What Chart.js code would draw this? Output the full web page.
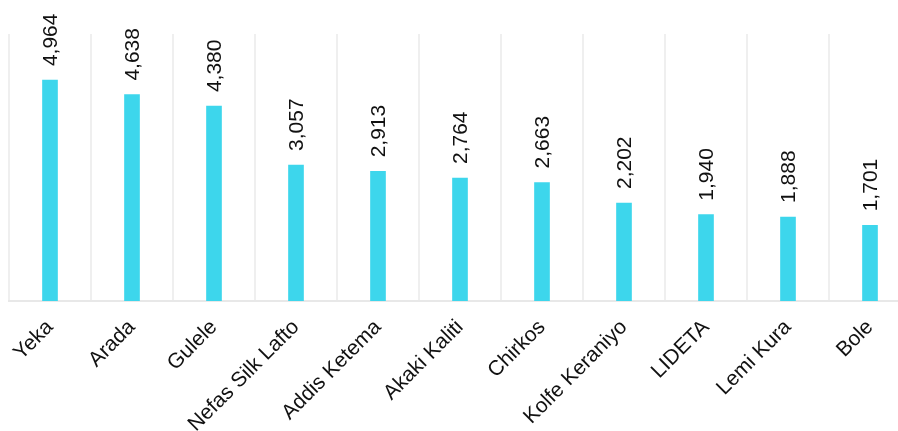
<!DOCTYPE html>
<html>
<head>
<meta charset="utf-8">
<script src="https://cdn.jsdelivr.net/npm/chart.js@4/dist/chart.umd.min.js"></script>
<style>
  html, body { margin: 0; padding: 0; background: #fff; overflow: hidden; }
  #clip { width: 898px; height: 431px; overflow: hidden; }
  /* the plot runs a little past the right edge */
  #wrap { width: 920px; height: 431px; }
</style>
</head>
<body>
<div id="clip"><div id="wrap"><canvas id="bars"></canvas></div></div>
<script>
const subcities = ['Yeka', 'Arada', 'Gulele', 'Nefas Silk Lafto', 'Addis Ketema', 'Akaki Kaliti',
  'Chirkos', 'Kolfe Keraniyo', 'LIDETA', 'Lemi Kura', 'Bole']
const counts = [4964, 4638, 4380, 3057, 2913, 2764, 2663, 2202, 1940, 1888, 1701]

// numbers written vertically above each bar
const valueLabels = {
  id: 'valueLabels',
  afterDatasetsDraw: (chart) => {
    const ctx = chart.ctx
    const meta = chart.getDatasetMeta(0)
    ctx.save()
    ctx.font = '21px "Liberation Sans", Arial, sans-serif'
    ctx.fillStyle = '#111'
    ctx.textAlign = 'left'
    ctx.textBaseline = 'middle'
    meta.data.forEach((bar, i) => {
      ctx.save()
      ctx.translate(bar.x + 1, bar.y - 14)
      ctx.rotate(-Math.PI / 2)
      ctx.fillText(counts[i].toLocaleString('en-US'), 0, 0)
      ctx.restore()
    })
    ctx.restore()
  }
}

new Chart(document.getElementById('bars'), {
  type: 'bar',
  data: {
    labels: subcities,
    datasets: [{
      data: counts,
      backgroundColor: '#3dd6ec',
      borderWidth: 0,
      barThickness: 15
    }]
  },
  options: {
    responsive: true,
    maintainAspectRatio: false,
    animation: false,
    events: [],
    layout: { padding: { top: 34, left: 9, right: 9, bottom: 0 } },
    plugins: {
      legend: { display: false },
      tooltip: { enabled: false }
    },
    scales: {
      x: {
        grid: { display: true, offset: true, color: '#efefef', lineWidth: 2, drawTicks: false },
        border: { display: true, color: '#e8e8e8', width: 2 },
        ticks: {
          color: '#111',
          font: { family: '"Liberation Sans", Arial, sans-serif', size: 21 },
          minRotation: 45,
          maxRotation: 45,
          padding: 14
        },
        afterFit: (scale) => { scale.height = 130 }
      },
      y: {
        display: false,
        min: 0,
        max: 6000
      }
    }
  },
  plugins: [valueLabels]
})
</script>
</body>
</html>
